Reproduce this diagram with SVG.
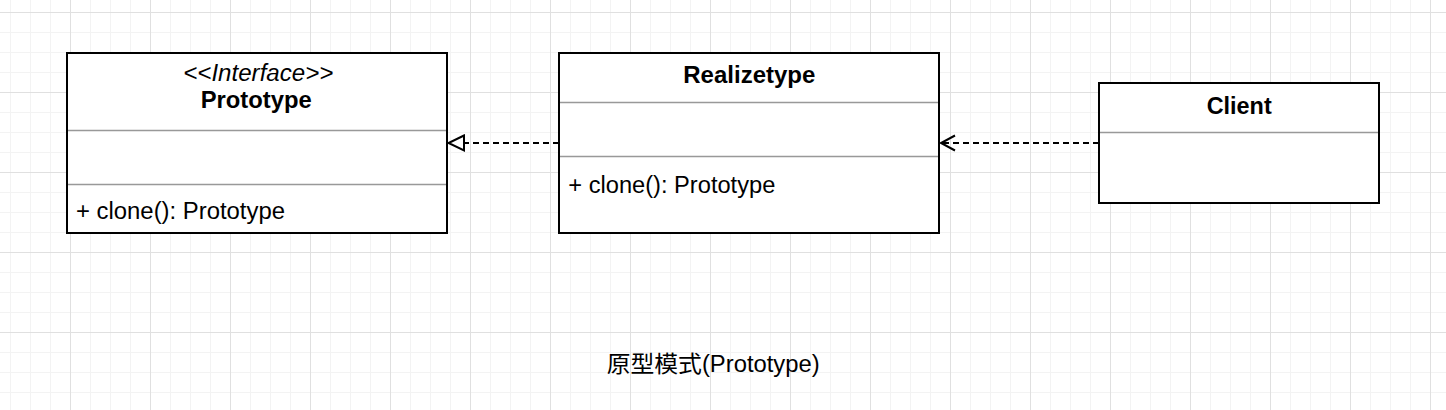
<svg xmlns="http://www.w3.org/2000/svg" width="1446" height="410" viewBox="0 0 1446 410">
<style>
.box{fill:#ffffff;stroke:#000000;stroke-width:2}
.div{stroke:#999999;stroke-width:1.5;fill:none}
.t{font-family:"Liberation Sans",Arial,Helvetica,sans-serif;font-size:23px;fill:#000000}
.b{font-weight:bold}
.i{font-style:italic}
.edge{stroke:#000000;stroke-width:2;fill:none;stroke-dasharray:6 4}
.head{stroke:#000000;stroke-width:2;stroke-linejoin:miter}
.cap{font-family:"Liberation Sans","Noto Sans CJK SC",sans-serif;font-size:23px;fill:#000000}
</style>
<defs>
<pattern id="minor" patternUnits="userSpaceOnUse" x="10" y="12" width="20" height="20">
<rect x="0" y="0" width="1" height="20" fill="#f3f3f3"/>
<rect x="0" y="0" width="20" height="1" fill="#f3f3f3"/>
</pattern>
<pattern id="major" patternUnits="userSpaceOnUse" x="70" y="12" width="80" height="80">
<rect x="0" y="0" width="1" height="80" fill="#e0e0e0"/>
<rect x="0" y="0" width="80" height="1" fill="#e0e0e0"/>
</pattern>
</defs>
<rect x="0" y="0" width="1446" height="410" fill="#ffffff"/>
<rect x="0" y="0" width="1446" height="410" fill="url(#minor)"/>
<rect x="0" y="0" width="1446" height="410" fill="url(#major)"/>

<g id="connectors">
<path class="edge" d="M559,143 L465,143"/>
<path class="head" d="M464,135.5 L448.5,143 L464,150.5 Z" fill="#ffffff"/>
<path class="edge" d="M1099,143 L942,143"/>
<path class="head" d="M955,135.5 L941,143 L955,150.5" fill="none"/>
</g>

<g id="prototype">
<rect class="box" x="67" y="53" width="380" height="180"/>
<line class="div" x1="68" y1="130.5" x2="446" y2="130.5"/>
<line class="div" x1="68" y1="184.5" x2="446" y2="184.5"/>
<text class="t i" x="183.3" y="81" textLength="150" lengthAdjust="spacingAndGlyphs">&lt;&lt;Interface&gt;&gt;</text>
<text class="t b" x="200.7" y="108" textLength="111" lengthAdjust="spacingAndGlyphs">Prototype</text>
<text class="t" x="76" y="219" textLength="209" lengthAdjust="spacingAndGlyphs">+ clone(): Prototype</text>
</g>

<g id="realizetype">
<rect class="box" x="559" y="53" width="380" height="180"/>
<line class="div" x1="560" y1="102.5" x2="938" y2="102.5"/>
<line class="div" x1="560" y1="156.5" x2="938" y2="156.5"/>
<text class="t b" x="683.3" y="83" textLength="132" lengthAdjust="spacingAndGlyphs">Realizetype</text>
<text class="t" x="568.3" y="193" textLength="207" lengthAdjust="spacingAndGlyphs">+ clone(): Prototype</text>
</g>

<g id="client">
<rect class="box" x="1099" y="83" width="280" height="120"/>
<line class="div" x1="1100" y1="132.5" x2="1378" y2="132.5"/>
<text class="t b" x="1206.7" y="114" textLength="65" lengthAdjust="spacingAndGlyphs">Client</text>
</g>

<g id="caption">
<text class="cap" x="606.7" y="372" textLength="213" lengthAdjust="spacingAndGlyphs">原型模式(Prototype)</text>
</g>
</svg>
